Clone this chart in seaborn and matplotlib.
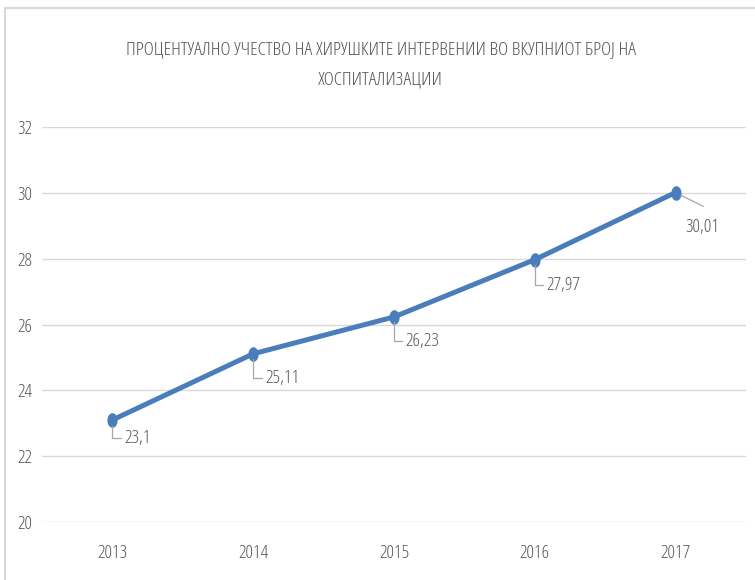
import matplotlib
matplotlib.use("Agg")
import matplotlib.pyplot as plt
from matplotlib.lines import Line2D
import numpy as np
import seaborn as sns
import pandas as pd

years = ["2013", "2014", "2015", "2016", "2017"]
shares = [23.1, 25.11, 26.23, 27.97, 30.01]
value_labels = ["23,1", "25,11", "26,23", "27,97", "30,01"]
y_ticks = [20, 22, 24, 26, 28, 30, 32]
title_text = "ПРОЦЕНТУАЛНО УЧЕСТВО НА ХИРУШКИТЕ ИНТЕРВЕНИИ ВО ВКУПНИОТ БРОЈ НА\nХОСПИТАЛИЗАЦИИ"

sns.set_theme(style="white")
plt.rcParams["font.family"] = ["Open Sans", "DejaVu Sans"]
plt.rcParams["font.stretch"] = "condensed"
plt.rcParams["font.weight"] = 300

text_color = "#555555"
line_color = "#4a7ebb"
leader_color = "#a6a6a6"

# slightly tall oval marker
theta = np.linspace(0, 2 * np.pi, 40)
oval = np.column_stack([0.7 * np.cos(theta), np.sin(theta)])

df = pd.DataFrame({"year": years, "share": shares})

fig = plt.figure(figsize=(7.55, 5.80), dpi=100)
ax = fig.add_axes([0.0556, 0.1, 0.9324, 0.681])

sns.lineplot(data=df, x="year", y="share", ax=ax, color=line_color,
             linewidth=3.6, marker=oval, markersize=10.5, markeredgewidth=0,
             sort=False)

ax.set_ylim(20, 32)
ax.set_xlim(-0.5, len(years) - 0.5)
ax.set_yticks(y_ticks)
ax.set_yticklabels([str(t) for t in y_ticks])
ax.yaxis.grid(True, color="#d9d9d9", linewidth=1.0)
ax.xaxis.grid(False)
ax.set_axisbelow(True)
for s in ax.spines.values():
    s.set_visible(False)
ax.set_xlabel("")
ax.set_ylabel("")
ax.tick_params(axis="both", length=0, labelsize=13.5, labelcolor=text_color)
ax.tick_params(axis="x", pad=16)
ax.tick_params(axis="y", pad=7)

# data labels with leader lines
drops = [-13, -17.5, -17.5, -18, None]
for i, (v, lab) in enumerate(zip(shares, value_labels)):
    if drops[i] is not None:
        ax.annotate(lab, xy=(i, v), xytext=(8.5, drops[i]), textcoords="offset points",
                    ha="left", va="center", fontsize=13.5, color=text_color,
                    arrowprops=dict(arrowstyle="-", color=leader_color, lw=0.9,
                                    relpos=(0, 0.5),
                                    connectionstyle="angle,angleA=0,angleB=90,rad=0",
                                    shrinkA=0, shrinkB=4))
    else:
        ax.annotate(lab, xy=(i, v), xytext=(7, -25), textcoords="offset points",
                    ha="left", va="center", fontsize=13.5, color=text_color)
        ax.annotate("", xy=(i, v), xytext=(20, -10), textcoords="offset points",
                    arrowprops=dict(arrowstyle="-", color=leader_color, lw=0.9,
                                    shrinkA=0, shrinkB=4))

fig.text(0.504, 0.889, title_text, ha="center", va="center", fontsize=14,
         color=text_color, linespacing=1.85)

# chart frame edges
fig.add_artist(Line2D([0.0066, 1.0], [0.986, 0.986], transform=fig.transFigure,
                      color="#d9d9d9", linewidth=1.5))
fig.add_artist(Line2D([0.0066, 0.0066], [0.0, 0.986], transform=fig.transFigure,
                      color="#d9d9d9", linewidth=1.5))

fig.savefig("out.png", dpi=100)
